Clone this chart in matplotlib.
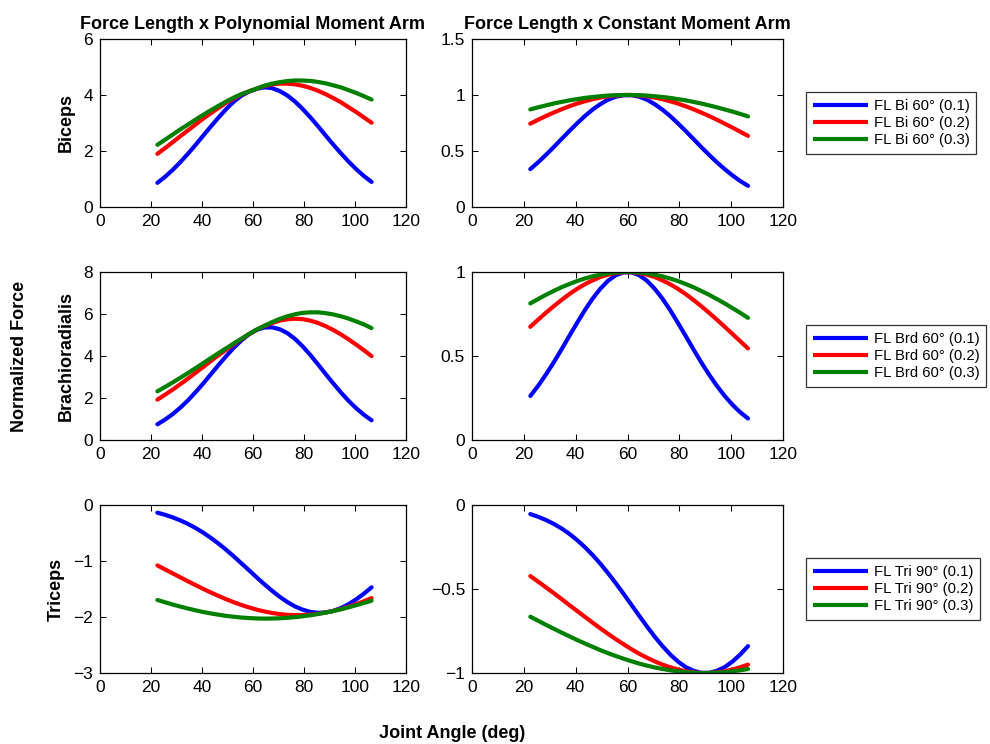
import matplotlib
matplotlib.use("Agg")
import matplotlib.pyplot as plt
from matplotlib.ticker import FuncFormatter

plt.rcParams['font.family'] = ['Liberation Sans', 'DejaVu Sans']

# Joint angle samples (deg)
angle = [22.5, 25.5, 28.5, 31.5, 34.5, 37.5, 40.5, 43.5, 46.5, 49.5,
         52.5, 55.5, 58.5, 61.5, 64.5, 67.5, 70.5, 73.5, 76.5, 79.5,
         82.5, 85.5, 88.5, 91.5, 94.5, 97.5, 100.5, 103.5, 106.5]

# Biceps, force-length x polynomial moment arm
bi_poly_01 = [0.862, 1.077, 1.325, 1.602, 1.903, 2.221, 2.551, 2.879, 3.198, 3.498,
              3.765, 3.979, 4.122, 4.222, 4.275, 4.244, 4.140, 3.980, 3.763, 3.499,
              3.202, 2.885, 2.553, 2.227, 1.915, 1.619, 1.348, 1.104, 0.896]
bi_poly_02 = [1.897, 2.103, 2.314, 2.529, 2.738, 2.949, 3.157, 3.351, 3.540, 3.722,
              3.883, 4.024, 4.130, 4.230, 4.323, 4.377, 4.406, 4.406, 4.380, 4.329,
              4.252, 4.151, 4.030, 3.889, 3.739, 3.564, 3.389, 3.199, 3.010]
bi_poly_03 = [2.221, 2.403, 2.585, 2.772, 2.945, 3.123, 3.293, 3.458, 3.614, 3.768,
              3.910, 4.032, 4.130, 4.230, 4.331, 4.408, 4.460, 4.498, 4.519, 4.516,
              4.503, 4.465, 4.417, 4.345, 4.272, 4.172, 4.073, 3.956, 3.835]

# Biceps, force-length x constant moment arm
bi_const_01 = [0.338, 0.399, 0.465, 0.534, 0.606, 0.677, 0.746, 0.811, 0.869, 0.918,
               0.958, 0.985, 0.998, 0.998, 0.985, 0.958, 0.918, 0.869, 0.811, 0.746,
               0.677, 0.606, 0.534, 0.465, 0.399, 0.338, 0.282, 0.232, 0.189]
bi_const_02 = [0.744, 0.779, 0.812, 0.843, 0.872, 0.899, 0.923, 0.944, 0.962, 0.977,
               0.988, 0.996, 1.000, 1.000, 0.996, 0.988, 0.977, 0.962, 0.944, 0.923,
               0.899, 0.872, 0.843, 0.812, 0.779, 0.744, 0.709, 0.672, 0.635]
bi_const_03 = [0.871, 0.890, 0.907, 0.924, 0.938, 0.952, 0.963, 0.974, 0.982, 0.989,
               0.995, 0.998, 1.000, 1.000, 0.998, 0.995, 0.989, 0.982, 0.974, 0.963,
               0.952, 0.938, 0.924, 0.907, 0.890, 0.871, 0.852, 0.831, 0.809]

# Brachioradialis, force-length x polynomial moment arm
brd_poly_01 = [0.747, 0.969, 1.233, 1.540, 1.888, 2.280, 2.694, 3.134, 3.574, 3.996,
               4.399, 4.748, 5.040, 5.249, 5.356, 5.366, 5.274, 5.088, 4.810, 4.454,
               4.048, 3.599, 3.139, 2.692, 2.260, 1.863, 1.510, 1.200, 0.938]
brd_poly_02 = [1.921, 2.155, 2.400, 2.659, 2.924, 3.203, 3.479, 3.764, 4.038, 4.307,
               4.566, 4.811, 5.045, 5.255, 5.427, 5.569, 5.684, 5.748, 5.775, 5.754,
               5.685, 5.573, 5.421, 5.238, 5.026, 4.792, 4.537, 4.275, 3.995]
brd_poly_03 = [2.317, 2.525, 2.739, 2.963, 3.191, 3.424, 3.661, 3.902, 4.140, 4.369,
               4.603, 4.825, 5.050, 5.260, 5.444, 5.615, 5.766, 5.893, 5.987, 6.054,
               6.078, 6.081, 6.040, 5.979, 5.890, 5.780, 5.644, 5.503, 5.329]

# Brachioradialis, force-length x constant moment arm
brd_const_01 = [0.262, 0.322, 0.389, 0.461, 0.538, 0.618, 0.696, 0.772, 0.841, 0.900,
                0.948, 0.981, 0.998, 0.998, 0.981, 0.948, 0.900, 0.841, 0.772, 0.696,
                0.618, 0.538, 0.461, 0.389, 0.322, 0.262, 0.210, 0.165, 0.128]
brd_const_02 = [0.674, 0.716, 0.757, 0.796, 0.833, 0.868, 0.899, 0.927, 0.950, 0.970,
                0.984, 0.994, 0.999, 0.999, 0.994, 0.984, 0.970, 0.950, 0.927, 0.899,
                0.868, 0.833, 0.796, 0.757, 0.716, 0.674, 0.631, 0.588, 0.545]
brd_const_03 = [0.813, 0.839, 0.864, 0.887, 0.909, 0.928, 0.946, 0.961, 0.974, 0.984,
                0.992, 0.997, 1.000, 1.000, 0.997, 0.992, 0.984, 0.974, 0.961, 0.946,
                0.928, 0.909, 0.887, 0.864, 0.839, 0.813, 0.785, 0.757, 0.727]

# Triceps, force-length x polynomial moment arm
tri_poly_01 = [-0.137, -0.175, -0.221, -0.275, -0.338, -0.411, -0.495, -0.588, -0.690, -0.801,
               -0.919, -1.043, -1.168, -1.295, -1.417, -1.533, -1.640, -1.734, -1.812, -1.870,
               -1.909, -1.925, -1.918, -1.890, -1.840, -1.771, -1.684, -1.583, -1.470]
tri_poly_02 = [-1.079, -1.150, -1.221, -1.292, -1.362, -1.431, -1.498, -1.563, -1.624, -1.683,
               -1.737, -1.786, -1.830, -1.869, -1.902, -1.928, -1.948, -1.961, -1.967, -1.966,
               -1.958, -1.943, -1.920, -1.892, -1.857, -1.817, -1.770, -1.719, -1.662]
tri_poly_03 = [-1.696, -1.737, -1.777, -1.814, -1.849, -1.881, -1.911, -1.937, -1.959, -1.980,
               -1.996, -2.010, -2.019, -2.026, -2.029, -2.027, -2.023, -2.014, -2.003, -1.987,
               -1.969, -1.946, -1.921, -1.893, -1.861, -1.827, -1.789, -1.750, -1.708]

# Triceps, force-length x constant moment arm
tri_const_01 = [-0.054, -0.070, -0.089, -0.112, -0.139, -0.171, -0.208, -0.250, -0.297, -0.349,
                -0.406, -0.466, -0.529, -0.594, -0.659, -0.723, -0.784, -0.840, -0.890, -0.932,
                -0.965, -0.987, -0.999, -0.999, -0.987, -0.965, -0.932, -0.890, -0.840]
tri_const_02 = [-0.423, -0.456, -0.490, -0.524, -0.559, -0.595, -0.630, -0.665, -0.700, -0.734,
                -0.767, -0.799, -0.829, -0.858, -0.885, -0.909, -0.931, -0.950, -0.966, -0.979,
                -0.990, -0.996, -1.000, -1.000, -0.996, -0.990, -0.979, -0.966, -0.950]
tri_const_03 = [-0.665, -0.689, -0.713, -0.736, -0.759, -0.781, -0.803, -0.824, -0.844, -0.864,
                -0.882, -0.899, -0.915, -0.930, -0.944, -0.956, -0.967, -0.976, -0.984, -0.990,
                -0.995, -0.998, -1.000, -1.000, -0.998, -0.995, -0.990, -0.984, -0.976]

muscles = ["Biceps", "Brachioradialis", "Triceps"]
legend_labels = [
    ["FL Bi 60\u00b0 (0.1)", "FL Bi 60\u00b0 (0.2)", "FL Bi 60\u00b0 (0.3)"],
    ["FL Brd 60\u00b0 (0.1)", "FL Brd 60\u00b0 (0.2)", "FL Brd 60\u00b0 (0.3)"],
    ["FL Tri 90\u00b0 (0.1)", "FL Tri 90\u00b0 (0.2)", "FL Tri 90\u00b0 (0.3)"],
]
poly_series = [
    [bi_poly_01, bi_poly_02, bi_poly_03],
    [brd_poly_01, brd_poly_02, brd_poly_03],
    [tri_poly_01, tri_poly_02, tri_poly_03],
]
const_series = [
    [bi_const_01, bi_const_02, bi_const_03],
    [brd_const_01, brd_const_02, brd_const_03],
    [tri_const_01, tri_const_02, tri_const_03],
]
poly_yticks = [[0, 2, 4, 6], [0, 2, 4, 6, 8], [-3, -2, -1, 0]]
const_yticks = [[0, 0.5, 1, 1.5], [0, 0.5, 1], [-1, -0.5, 0]]
xticks = [0, 20, 40, 60, 80, 100, 120]
colors = ["#0000ff", "#ff0000", "#008000"]

W, H = 990, 744
fig = plt.figure(figsize=(W / 100, H / 100), dpi=100)

row_px = [(39, 207), (272, 440), (505, 673)]
left_px = (100, 406)
right_px = (472, 783)

FS = 12.5
FS_BOLD = 13


def tick_fmt(v, pos):
    return ('%g' % v).replace('-', '\u2212')


def style_axes(ax, yticks):
    ax.set_xlim(0, 120)
    ax.set_ylim(yticks[0], yticks[-1])
    ax.set_xticks(xticks)
    ax.set_yticks(yticks)
    ax.yaxis.set_major_formatter(FuncFormatter(tick_fmt))
    ax.tick_params(direction='in', top=True, right=True, length=4, width=0.75,
                   labelsize=FS, color='black')
    ax.tick_params(axis='x', pad=5)
    ax.tick_params(axis='y', pad=5)
    for s in ax.spines.values():
        s.set_linewidth(0.9)
        s.set_color('black')


for r in range(3):
    top, bot = row_px[r]
    yb = 1 - bot / H
    h = (bot - top) / H
    axl = fig.add_axes([left_px[0] / W, yb, (left_px[1] - left_px[0]) / W, h])
    axr = fig.add_axes([right_px[0] / W, yb, (right_px[1] - right_px[0]) / W, h])

    for series, c in zip(poly_series[r], colors):
        axl.plot(angle, series, color=c, lw=3, solid_capstyle='round',
                 solid_joinstyle='round')
    handles = []
    for series, c, lab in zip(const_series[r], colors, legend_labels[r]):
        ln, = axr.plot(angle, series, color=c, lw=3, solid_capstyle='round',
                       solid_joinstyle='round', label=lab)
        handles.append(ln)

    style_axes(axl, poly_yticks[r])
    style_axes(axr, const_yticks[r])
    axl.set_ylabel(muscles[r], fontsize=FS_BOLD, fontweight='bold', labelpad=6)

    leg = axr.legend(handles=handles, loc='center left',
                     bbox_to_anchor=(806 / W, 1 - (top + bot) / 2 / H),
                     bbox_transform=fig.transFigure, fontsize=10.7,
                     frameon=True, fancybox=False, shadow=False,
                     handlelength=3.7, handletextpad=0.4, borderpad=0.45,
                     labelspacing=0.2, borderaxespad=0)
    leg.get_frame().set_edgecolor('black')
    leg.get_frame().set_linewidth(0.9)
    for lh in leg.get_lines():
        lh.set_solid_capstyle('butt')

    if r == 0:
        axl.set_title("Force Length x Polynomial Moment Arm", fontsize=FS_BOLD,
                      fontweight='bold', pad=7)
        axr.set_title("Force Length x Constant Moment Arm", fontsize=FS_BOLD,
                      fontweight='bold', pad=7)

fig.text(20 / W, 1 - 356 / H, "Normalized Force", rotation=90, ha='center',
         va='center', fontsize=FS_BOLD, fontweight='bold')
fig.text(452 / W, 1 - 733 / H, "Joint Angle (deg)", ha='center', va='center',
         fontsize=FS_BOLD, fontweight='bold')

fig.savefig("out.png", dpi=100)
